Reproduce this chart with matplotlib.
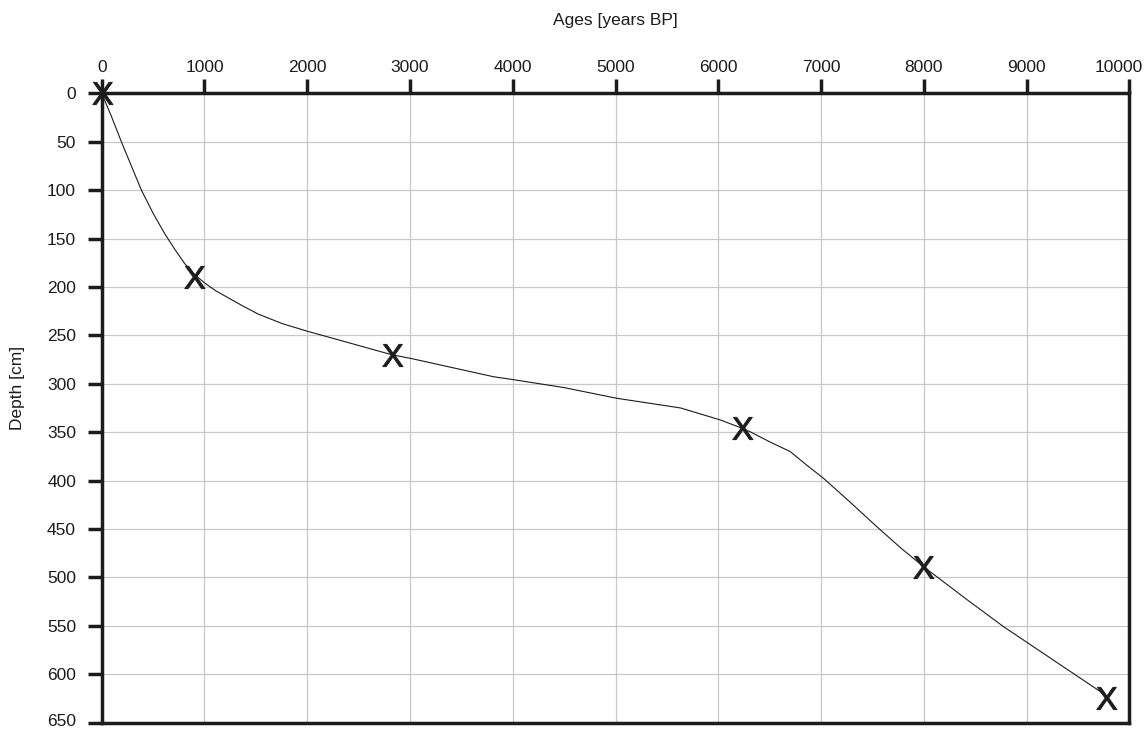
import numpy as np
import matplotlib
matplotlib.use("Agg")
import matplotlib.pyplot as plt
from matplotlib.path import Path
from matplotlib.textpath import TextPath
from matplotlib.font_manager import FontProperties
from matplotlib.transforms import ScaledTranslation

plt.rcParams['font.family'] = ['Liberation Sans', 'DejaVu Sans']

# dated samples (age in years BP, depth in cm)
sample_age = [0, 901, 2821, 6232, 7996, 9776]
sample_depth = [0, 189.5, 270, 346, 489, 625]

# age-depth model curve
model_age = [0, 95, 191, 290, 386, 500, 613, 710, 808, 900, 1003, 1110,
             1227, 1370, 1522, 1760, 2009, 2369, 2821, 3015, 3810, 4020,
             4500, 5011, 5633, 6023, 6232, 6310, 6500, 6699, 6860, 7024,
             7280, 7543, 7780, 7998, 8420, 8777, 9718, 9776]
model_depth = [0, 24, 50, 75.5, 100, 124, 145, 161, 176, 187, 196, 204,
               211, 219.5, 228, 238, 246, 256.6, 270, 274, 292.7, 296,
               304, 315, 325, 337.5, 346, 349.6, 360, 370, 384, 397.7,
               422, 447.7, 470, 489, 523, 551, 618, 625]

age_ticks = np.arange(0, 10001, 1000)
depth_ticks = np.arange(0, 651, 50)

ink = '#1c1c1c'

# "X" glyph as marker, centred on the sample
tp = TextPath((0, 0), 'X', prop=FontProperties(family='Liberation Sans'))
v = tp.vertices.copy()
v -= (v.min(axis=0) + v.max(axis=0)) / 2
x_marker = Path(v, tp.codes)

fig = plt.figure(figsize=(11.47, 7.29), dpi=100)
ax = fig.add_axes([0.0887, 0.0088, 0.8959, 0.8632])

ax.plot(model_age, model_depth, color=ink, lw=0.8, zorder=3)
ax.plot(sample_age, sample_depth, ls='none', marker=x_marker, ms=16,
        mfc=ink, mec=ink, mew=0.7, zorder=4, clip_on=False)

ax.set_xlim(0, 10000)
ax.set_ylim(650, 0)
ax.set_xticks(age_ticks)
ax.set_yticks(depth_ticks)

ax.xaxis.tick_top()
ax.xaxis.set_label_position('top')
ax.grid(True, color='#c8c8c8', lw=0.9, zorder=0)
ax.set_axisbelow(True)

for s in ax.spines.values():
    s.set_color(ink)
    s.set_linewidth(2.5)

ax.tick_params(axis='x', direction='out', length=10, width=2.5, color=ink,
               labelsize=12.5, labelcolor=ink, pad=3.5)
ax.tick_params(axis='y', direction='out', length=10, width=2.5, color=ink,
               labelsize=12.5, labelcolor=ink, pad=8.5)

# keep the end labels inside the figure
fig.canvas.draw()
last = ax.get_xticklabels()[-1]
last.set_transform(last.get_transform() +
                   ScaledTranslation(-0.11, 0, fig.dpi_scale_trans))
bottom = ax.get_yticklabels()[-1]
bottom.set_transform(bottom.get_transform() +
                     ScaledTranslation(0, 0.03, fig.dpi_scale_trans))

ax.set_xlabel('Ages [years BP]', fontsize=12.5, color=ink, va='center')
ax.xaxis.set_label_coords(0.5, 1.115)
ax.set_ylabel('Depth [cm]', fontsize=12.5, color=ink, va='center')
ax.yaxis.set_label_coords(-0.0815, 0.532)

fig.savefig('out.png', dpi=100)
